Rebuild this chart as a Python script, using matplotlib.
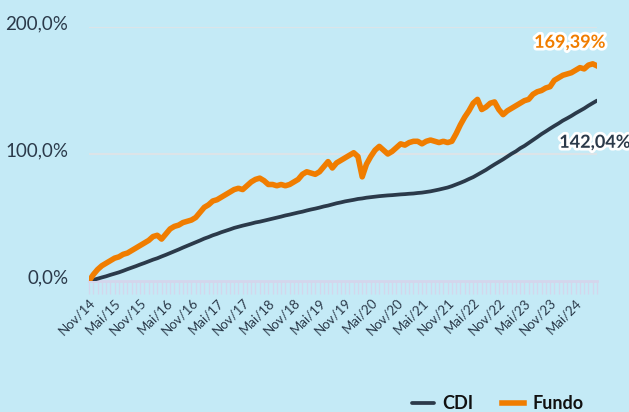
import numpy as np
import matplotlib
matplotlib.use("Agg")
import matplotlib.pyplot as plt
import matplotlib.patheffects as pe
from matplotlib.transforms import ScaledTranslation

plt.rcParams['font.family'] = ['Lato', 'DejaVu Sans']

# monthly points, Nov/14 -> Oct/24 (cumulative return, %)
fundo = [0, 5, 9, 12, 14, 16, 18, 19, 21, 22,
         24, 26, 28, 30, 32, 35, 36, 33, 37, 41,
         43, 44, 46, 47, 48, 50, 54, 58, 60, 63,
         64, 66, 68, 70, 72, 73, 72, 75, 78, 80,
         81, 79, 76, 76, 75, 76, 75, 76, 78, 80,
         84, 86, 85, 84, 86, 90, 94, 89, 93, 95,
         97, 99, 101, 98, 82, 92, 98, 103, 106, 103,
         100, 102, 105, 108, 107, 109, 110, 110, 108, 110,
         111, 110, 109, 110, 109, 110, 116, 123, 129, 134,
         140, 143, 135, 137, 140, 141, 135, 131, 134, 136,
         138, 140, 142, 143, 147, 149, 150, 152, 153, 158,
         160, 162, 163, 164, 166, 168, 167, 170, 171, 169.39]

cdi = [0, 0.85, 1.8, 2.8, 3.7, 4.8, 5.8, 6.8, 8.0, 9.3,
       10.5, 11.7, 13.0, 14.2, 15.5, 16.8, 17.9, 19.3, 20.6, 22.0,
       23.4, 24.8, 26.3, 27.7, 29.1, 30.5, 31.9, 33.4, 34.6, 36.0,
       37.1, 38.4, 39.5, 40.6, 41.8, 42.7, 43.6, 44.4, 45.2, 46.1,
       46.7, 47.5, 48.3, 49.1, 49.9, 50.7, 51.6, 52.3, 53.1, 53.9,
       54.6, 55.5, 56.3, 57.0, 57.8, 58.7, 59.4, 60.3, 61.2, 61.9,
       62.7, 63.3, 63.9, 64.6, 65.0, 65.6, 66.0, 66.4, 66.8, 67.1,
       67.4, 67.6, 67.9, 68.2, 68.4, 68.7, 68.9, 69.3, 69.6, 70.1,
       70.6, 71.3, 72.0, 72.8, 73.6, 74.7, 76.0, 77.3, 78.7, 80.3,
       81.8, 83.7, 85.6, 87.5, 89.7, 91.8, 93.8, 95.8, 98.0, 100.2,
       102.1, 104.5, 106.4, 108.7, 111.0, 113.3, 115.7, 117.8, 120.0, 122.1,
       124.1, 126.3, 128.1, 130.0, 132.1, 134.0, 135.9, 138.1, 140.1, 142.04]

xlabels = ['Nov/14', 'Mai/15', 'Nov/15', 'Mai/16', 'Nov/16', 'Mai/17', 'Nov/17',
           'Mai/18', 'Nov/18', 'Mai/19', 'Nov/19', 'Mai/20', 'Nov/20', 'Mai/21',
           'Nov/21', 'Mai/22', 'Nov/22', 'Mai/23', 'Nov/23', 'Mai/24']
yticks = [0, 100, 200]
ylabels = ['0,0%', '100,0%', '200,0%']

bg = '#C4EAF6'
dark = '#2B3A4A'
orange = '#F07D00'
axis_col = '#D4D6EC'

months = np.arange(len(fundo))

fig = plt.figure(figsize=(6.29, 4.12), dpi=100, facecolor=bg)
ax = fig.add_axes([89 / 629, 1 - 281 / 412, 508 / 629, 254 / 412], facecolor=bg)

ax.plot(months, cdi, color=dark, lw=2.7, solid_capstyle='round', label='CDI', zorder=3)
ax.plot(months, fundo, color=orange, lw=4, label='Fundo', zorder=4)

ax.set_xlim(0, len(fundo) - 1)
ax.set_ylim(0, 200)

for s in ['top', 'right', 'left']:
    ax.spines[s].set_visible(False)
ax.spines['bottom'].set_color(axis_col)
ax.spines['bottom'].set_linewidth(2)

for y in [100, 200]:
    ax.axhline(y, color='#DCE4E8', lw=1.5, zorder=1)

ax.set_xticks(months[::6][:len(xlabels)])
ax.set_xticklabels(xlabels, rotation=45, ha='right', rotation_mode='anchor',
                   fontsize=9.5, color=dark)
ax.set_xticks(months, minor=True)
ax.tick_params(axis='x', which='both', length=9, width=1, color=axis_col, pad=2)

ax.set_yticks(yticks)
ax.set_yticklabels(ylabels, fontsize=13.5, color=dark)
ax.tick_params(axis='y', length=0, pad=15)
off = ScaledTranslation(0, 5 / 100, fig.dpi_scale_trans)
for lab in ax.get_yticklabels():
    lab.set_transform(lab.get_transform() + off)

halo = [pe.withStroke(linewidth=4, foreground='white')]
ax.annotate('169,39%', (months[-1], fundo[-1]), xytext=(6, 17), textcoords='offset points',
            ha='right', va='center', fontsize=13, fontweight='bold', color=orange,
            path_effects=halo, zorder=6)
ax.annotate('142,04%', (months[-1], cdi[-1]), xytext=(24, -30), textcoords='offset points',
            ha='right', va='center', fontsize=13, fontweight='bold', color=dark,
            path_effects=halo, annotation_clip=False, zorder=6)

leg = fig.legend(loc='lower right', bbox_to_anchor=(0.953, -0.04), ncol=2, frameon=False,
                 handlelength=1.2, handletextpad=0.45, columnspacing=1.6,
                 prop={'size': 13, 'weight': 'bold'})
for t in leg.get_texts():
    t.set_color('#111111')

fig.savefig('out.png', dpi=100, facecolor=bg)
